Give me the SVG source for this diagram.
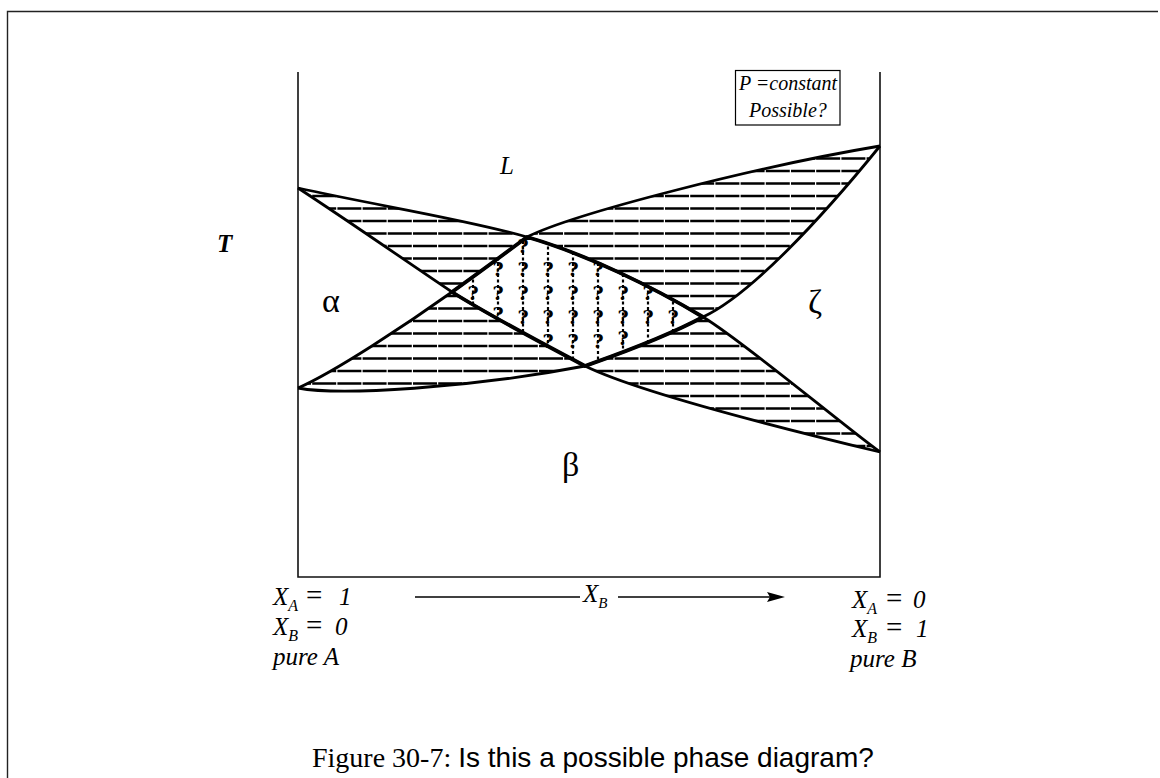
<svg xmlns="http://www.w3.org/2000/svg" width="1160" height="778" viewBox="0 0 1160 778">
<style>
.frame{stroke:#222;stroke-width:1.4;fill:none}
.axis{stroke:#111;stroke-width:1.6;fill:none}
.curve{stroke:#000;stroke-width:2.8;fill:none;stroke-linejoin:round}
.dia{stroke:#000;stroke-width:3.8;fill:none;stroke-linejoin:round}
.hl{stroke:#000;stroke-width:2.4;stroke-dasharray:24 1.2;stroke-dashoffset:11}
.col{stroke:#000;stroke-width:2.2;stroke-dasharray:3 2.5}
.q{font-family:"DejaVu Serif","Liberation Serif",serif;font-weight:bold;font-size:19px;text-anchor:middle;fill:#000}
.lab{font-family:"Liberation Serif","Times New Roman",serif;font-style:italic;font-size:25px;fill:#000}
.eq{font-family:"Liberation Serif","Times New Roman",serif;font-size:29px;fill:#000}
.greek{font-family:"Liberation Serif","Times New Roman",serif;font-size:34px;fill:#000}
.box{font-family:"Liberation Serif","Times New Roman",serif;font-style:italic;font-size:20px;fill:#000}
.capserif{font-family:"Liberation Serif","Times New Roman",serif;font-size:28px;fill:#000}
.capsans{font-family:"Liberation Sans",Arial,sans-serif;font-size:28px;fill:#000}
</style>
<defs>
<clipPath id="hatchClip">
<path d="M298,188 C374,205 470,220 527,237 C503,255 477,274 452,292 C400,257 350,222 298,188 Z"/>
<path d="M527,237 C575,213 760,166 880,146 C820,220 750,295 703,317 C653,287 586,254 527,237 Z"/>
<path d="M298,388 C335,372 410,322 452,292 C490,316 540,342 585,366 C470,388 340,396 298,388 Z"/>
<path d="M585,366 C610,357 660,340 703,317 C743,341 840,423 880,452 C780,428 640,393 585,366 Z"/>
</clipPath>
<clipPath id="diamondClip">
<path d="M527,237 C586,254 653,287 703,317 C660,340 610,357 585,366 C540,342 490,316 452,292 C477,274 503,255 527,237 Z"/>
</clipPath>
</defs>
<rect x="0" y="0" width="1160" height="778" fill="#fff"/>
<g id="frame">
<path class="frame" d="M7.5,778 V11.5 H1158"/>
</g>
<g id="axes">
<path class="axis" d="M298,72 V577 H880 V72"/>
</g>
<g id="hatching" clip-path="url(#hatchClip)">
<line class="hl" x1="298" x2="880" y1="146" y2="146"/>
<line class="hl" x1="298" x2="880" y1="158.5" y2="158.5"/>
<line class="hl" x1="298" x2="880" y1="171" y2="171"/>
<line class="hl" x1="298" x2="880" y1="183.5" y2="183.5"/>
<line class="hl" x1="298" x2="880" y1="196" y2="196"/>
<line class="hl" x1="298" x2="880" y1="208.5" y2="208.5"/>
<line class="hl" x1="298" x2="880" y1="221" y2="221"/>
<line class="hl" x1="298" x2="880" y1="233.5" y2="233.5"/>
<line class="hl" x1="298" x2="880" y1="246" y2="246"/>
<line class="hl" x1="298" x2="880" y1="258.5" y2="258.5"/>
<line class="hl" x1="298" x2="880" y1="271" y2="271"/>
<line class="hl" x1="298" x2="880" y1="283.5" y2="283.5"/>
<line class="hl" x1="298" x2="880" y1="296" y2="296"/>
<line class="hl" x1="298" x2="880" y1="308.5" y2="308.5"/>
<line class="hl" x1="298" x2="880" y1="321" y2="321"/>
<line class="hl" x1="298" x2="880" y1="333.5" y2="333.5"/>
<line class="hl" x1="298" x2="880" y1="346" y2="346"/>
<line class="hl" x1="298" x2="880" y1="358.5" y2="358.5"/>
<line class="hl" x1="298" x2="880" y1="371" y2="371"/>
<line class="hl" x1="298" x2="880" y1="383.5" y2="383.5"/>
<line class="hl" x1="298" x2="880" y1="396" y2="396"/>
<line class="hl" x1="298" x2="880" y1="408.5" y2="408.5"/>
<line class="hl" x1="298" x2="880" y1="421" y2="421"/>
<line class="hl" x1="298" x2="880" y1="433.5" y2="433.5"/>
<line class="hl" x1="298" x2="880" y1="446" y2="446"/>
</g>
<g id="diamond-fill" clip-path="url(#diamondClip)">
<line class="col" x1="473" x2="473" y1="230" y2="372"/>
<line class="col" x1="498" x2="498" y1="230" y2="372"/>
<line class="col" x1="523" x2="523" y1="230" y2="372"/>
<line class="col" x1="548" x2="548" y1="230" y2="372"/>
<line class="col" x1="573" x2="573" y1="230" y2="372"/>
<line class="col" x1="598" x2="598" y1="230" y2="372"/>
<line class="col" x1="623" x2="623" y1="230" y2="372"/>
<line class="col" x1="648" x2="648" y1="230" y2="372"/>
<line class="col" x1="673" x2="673" y1="230" y2="372"/>
</g>
<g id="question-marks">
<text class="q" x="473" y="300">?</text>
<text class="q" x="498" y="276">?</text><text class="q" x="498" y="300">?</text><text class="q" x="498" y="321">?</text>
<text class="q" x="523" y="253">?</text><text class="q" x="523" y="276">?</text><text class="q" x="523" y="300">?</text><text class="q" x="523" y="324">?</text>
<text class="q" x="548" y="276">?</text><text class="q" x="548" y="300">?</text><text class="q" x="548" y="324">?</text><text class="q" x="548" y="348">?</text>
<text class="q" x="573" y="276">?</text><text class="q" x="573" y="300">?</text><text class="q" x="573" y="324">?</text><text class="q" x="573" y="348">?</text>
<text class="q" x="598" y="276">?</text><text class="q" x="598" y="300">?</text><text class="q" x="598" y="324">?</text><text class="q" x="598" y="348">?</text>
<text class="q" x="623" y="300">?</text><text class="q" x="623" y="324">?</text><text class="q" x="623" y="345">?</text>
<text class="q" x="648" y="300">?</text><text class="q" x="648" y="324">?</text>
<text class="q" x="673" y="324">?</text>
</g>
<g id="connectors">
<path id="curve1" class="curve" d="M298,188 C374,205 470,220 527,237 C586,254 653,287 703,317 C743,341 840,423 880,452"/>
<path id="curve2" class="curve" d="M298,188 C350,222 400,257 452,292 C490,316 540,342 585,366 C640,393 780,428 880,452"/>
<path id="curve3" class="curve" d="M298,388 C335,372 410,322 452,292 C477,274 503,255 527,237 C575,213 760,166 880,146"/>
<path id="curve4" class="curve" d="M298,388 C340,396 470,388 585,366 C610,357 660,340 703,317 C750,295 820,220 880,146"/>
<path id="diamond-outline" class="dia" d="M527,237 C586,254 653,287 703,317 C660,340 610,357 585,366 C540,342 490,316 452,292 C477,274 503,255 527,237 Z"/>
<path id="xb-arrow-left" d="M415,597 H580" stroke="#000" stroke-width="1.4"/>
<path id="xb-arrow-right" d="M618,597 H770" stroke="#000" stroke-width="1.4"/>
<polygon id="xb-arrowhead" points="767,592 785,597 767,602 770,597" fill="#000"/>
</g>
<g id="label-L"><text class="lab" x="500" y="174" font-size="28">L</text></g>
<g id="label-T"><text class="lab" x="217" y="252" font-size="26" font-weight="bold">T</text></g>
<g id="label-alpha"><text class="greek" x="322" y="312">α</text></g>
<g id="label-zeta"><text class="greek" x="808" y="313">ζ</text></g>
<g id="label-beta"><text class="greek" x="562" y="476">β</text></g>
<g id="pbox">
<rect x="735.5" y="70.5" width="104.5" height="54.5" fill="none" stroke="#000" stroke-width="1.2"/>
<text class="box" x="739" y="90">P =constant</text>
<text class="box" x="749" y="117">Possible?</text>
</g>
<g id="label-xb"><text class="lab" x="583" y="602">X<tspan font-size="15" dy="6">B</tspan></text></g>
<g id="label-left">
<text class="lab" x="273" y="605">X<tspan font-size="16" dy="6">A</tspan></text><text class="eq" x="306" y="605">=</text><text class="lab" x="339" y="605">1</text>
<text class="lab" x="273" y="635">X<tspan font-size="16" dy="6">B</tspan></text><text class="eq" x="306" y="635">=</text><text class="lab" x="335" y="635">0</text>
<text class="lab" x="273" y="665">pure A</text>
</g>
<g id="label-right">
<text class="lab" x="852" y="608">X<tspan font-size="16" dy="6">A</tspan></text><text class="eq" x="886" y="608">=</text><text class="lab" x="913" y="608">0</text>
<text class="lab" x="852" y="637">X<tspan font-size="16" dy="6">B</tspan></text><text class="eq" x="886" y="637">=</text><text class="lab" x="916" y="637">1</text>
<text class="lab" x="850" y="667">pure B</text>
</g>
<g id="caption">
<text x="312" y="767"><tspan class="capserif">Figure 30-7: </tspan><tspan class="capsans">Is this a possible phase diagram?</tspan></text>
</g>
</svg>
